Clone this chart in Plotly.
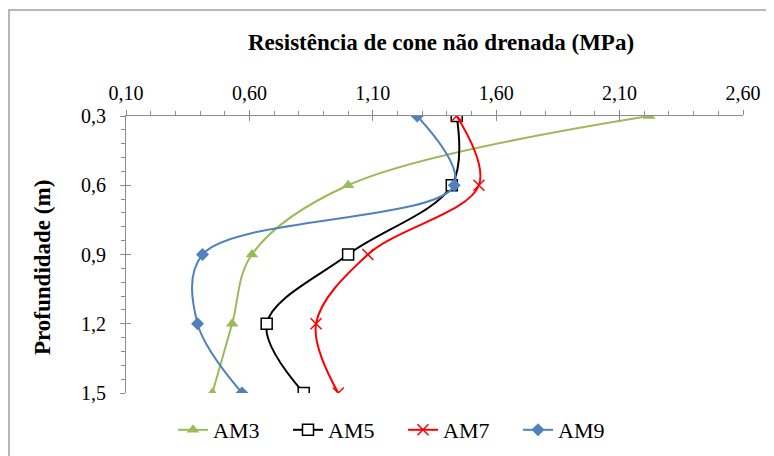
import plotly.graph_objects as go

profundidade = [0.3, 0.6, 0.9, 1.2, 1.5]
am3 = [2.22, 1.00, 0.61, 0.53, 0.45]
am5 = [1.44, 1.42, 1.00, 0.67, 0.82]
am7 = [1.44, 1.53, 1.08, 0.87, 0.96]
am9 = [1.28, 1.43, 0.41, 0.39, 0.57]

serif = "Liberation Serif, Times New Roman, serif"
gray = "#8c8c8c"

series = [
    ("AM3", am3, "#9bbb59", dict(symbol="triangle-up", size=11, color="#9bbb59")),
    ("AM5", am5, "black", dict(symbol="square", size=11, color="white", line=dict(color="black", width=1.5))),
    ("AM7", am7, "#ff0000", dict(symbol="x-thin-open", size=11, color="#ff0000", line=dict(color="#ff0000", width=1.5))),
    ("AM9", am9, "#4f81bd", dict(symbol="diamond", size=10, color="#4f81bd")),
]

fig = go.Figure()
for name, vals, col, mk in series:
    fig.add_trace(go.Scatter(
        x=vals, y=profundidade, name=name, mode="lines+markers",
        line=dict(color=col, width=2, shape="spline", smoothing=1),
        marker=mk,
    ))

# invisible trace so the overlay axes (inside half of cross ticks) get drawn
fig.add_trace(go.Scatter(x=[0.1], y=[0.3], xaxis="x2", yaxis="y2",
                         mode="markers", marker=dict(opacity=0),
                         showlegend=False, hoverinfo="skip"))

xcommon = dict(range=[0.1, 2.6], tick0=0.1, dtick=0.5, showgrid=False,
               zeroline=False, linecolor=gray, tickcolor=gray, ticklen=5)
ycommon = dict(range=[1.5, 0.3], tick0=0.3, dtick=0.3, showgrid=False,
               zeroline=False, linecolor=gray, tickcolor=gray, ticklen=5)

# page body has an 8px margin, so the figure is 8px smaller than the window
fig.update_layout(
    width=766, height=448,
    margin=dict(l=118, r=31, t=108, b=63, autoexpand=False),
    paper_bgcolor="white", plot_bgcolor="white",
    separators=", ",
    font=dict(family=serif, size=20, color="black"),
    xaxis=dict(**xcommon, side="top", showline=True, ticks="outside",
               tickformat=".2f", ticklabelstandoff=2,
               minor=dict(dtick=0.1, tick0=0.1, ticks="outside", ticklen=4, tickcolor=gray)),
    yaxis=dict(**ycommon, showline=True, ticks="outside", tickformat=".1f",
               ticklabelstandoff=10,
               minor=dict(dtick=0.06, tick0=0.3, ticks="outside", ticklen=4, tickcolor=gray)),
    xaxis2=dict(**xcommon, overlaying="x", side="top", anchor="y2", showline=False,
                ticks="inside", showticklabels=False),
    yaxis2=dict(**ycommon, overlaying="y", side="left", anchor="x2", showline=False,
                ticks="inside", showticklabels=False),
    legend=dict(orientation="h", x=(173 - 126) / 617, xanchor="left",
                y=(393 - 430) / 277, yanchor="middle",
                entrywidth=70, entrywidthmode="pixels",
                font=dict(family=serif, size=22), tracegroupgap=0),
    showlegend=True,
    annotations=[
        dict(text="<b>Resistência de cone não drenada (MPa)</b>", xref="paper", yref="paper",
             x=(441 - 126) / 617, y=(393 - 42) / 277, xanchor="center", yanchor="middle",
             showarrow=False, font=dict(family=serif, size=23)),
        dict(text="<b>Profundidade (m)</b>", xref="paper", yref="paper",
             x=(42 - 126) / 617, y=(393 - 268) / 277, xanchor="center", yanchor="middle",
             textangle=-90, showarrow=False, font=dict(family=serif, size=23)),
    ],
    shapes=[dict(type="rect", xref="paper", yref="paper",
                 x0=(9 - 126) / 617, x1=(800 - 126) / 617,
                 y0=-(500 - 393) / 277, y1=(393 - 10) / 277,
                 line=dict(color="#a0a0a0", width=1.5))],
)

fig.write_html("out.html")
